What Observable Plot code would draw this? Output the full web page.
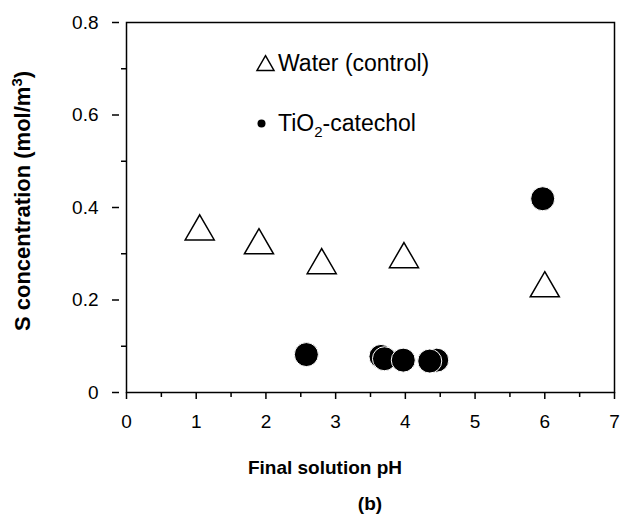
<!DOCTYPE html>
<html><head><meta charset="utf-8">
<script src="https://cdn.jsdelivr.net/npm/d3@7"></script>
<script src="https://cdn.jsdelivr.net/npm/@observablehq/plot@0.6"></script>
<style>
body{margin:0;background:#fff;}
svg{font-family:"Liberation Sans",Arial,sans-serif;}
</style>
</head><body><div id="chart"></div>
<script>
// Water (control) series
const waterPH = [1.05, 1.9, 2.8, 3.98, 6.0];
const waterS  = [0.348, 0.318, 0.275, 0.288, 0.225];
// TiO2-catechol series (drawing order matters for overlaps)
const tioPH = [2.58, 3.65, 3.70, 3.97, 4.45, 4.35, 5.97];
const tioS  = [0.082, 0.078, 0.073, 0.070, 0.070, 0.068, 0.419];
// ticks
const xTicks = [0, 1, 2, 3, 4, 5, 6, 7];
const xMinor = [0.5, 1.5, 2.5, 3.5, 4.5, 5.5, 6.5];
const yTicks = [0, 0.2, 0.4, 0.6, 0.8];
const yMinor = [0.1, 0.3, 0.5, 0.7];
// labels
const xLabel = "Final solution pH";
const panelLabel = "(b)";
const legendLabels = ["Water (control)", "TiO2-catechol"];

const water = waterPH.map((x, i) => ({x, y: waterS[i]}));
const tio = tioPH.map((x, i) => ({x, y: tioS[i]}));

const plot = Plot.plot({
  width: 639, height: 522,
  marginLeft: 126, marginRight: 25, marginTop: 22, marginBottom: 130,
  x: {domain: [0, 7]},
  y: {domain: [0, 0.8]},
  style: {fontFamily: "'Liberation Sans', Arial, sans-serif", fontSize: "19px", color: "black", background: "white"},
  marks: [
    Plot.axisX({ticks: xMinor, tickSize: 5, tickFormat: () => "", strokeWidth: 1.5, label: null}),
    Plot.axisX({ticks: xTicks, tickSize: 7, tickPadding: 15, strokeWidth: 1.5, label: null, fontSize: 19, tickFormat: d3.format("d")}),
    Plot.axisY({ticks: yMinor, tickSize: 5, tickFormat: () => "", strokeWidth: 1.5, label: null}),
    Plot.axisY({ticks: yTicks, tickSize: 7, tickPadding: 14, dx: -7, strokeWidth: 1.5, label: null, fontSize: 19, tickFormat: d => d === 0 ? "0" : d3.format(".1f")(d)}),
    Plot.frame({stroke: "black", strokeWidth: 1.5}),
    Plot.dot(water, {x: "x", y: "y", symbol: "triangle", r: 10.8, fill: "white", stroke: "black", strokeWidth: 1.5}),
    Plot.dot(tio, {x: "x", y: "y", r: 12, fill: "black", stroke: "white", strokeWidth: 1}),
    // legend symbols
    Plot.dot([legendLabels[0]], {frameAnchor: "top-left", dx: 139, dy: 43, symbol: "triangle", r: 6.3, fill: "white", stroke: "black", strokeWidth: 1.5}),
    Plot.dot([legendLabels[1]], {frameAnchor: "top-left", dx: 135, dy: 101, r: 4, fill: "black"})
  ]
});

const svg = d3.select(plot);
// legend text
const lg = svg.append("g").attr("font-size", 23).attr("fill", "black").attr("text-anchor", "start");
lg.append("text").attr("x", 278).attr("y", 71).text(legendLabels[0]);
const t2 = lg.append("text").attr("x", 278).attr("y", 131);
t2.append("tspan").text("TiO");
t2.append("tspan").attr("font-size", 15).attr("dy", 6).text("2");
t2.append("tspan").attr("dy", -6).text("-catechol");

// axis labels
svg.append("text").attr("x", 325).attr("y", 474).attr("text-anchor", "middle")
  .attr("font-size", 19).attr("font-weight", "bold").text(xLabel);
svg.append("text").attr("x", 370).attr("y", 510).attr("text-anchor", "middle")
  .attr("font-size", 19).attr("font-weight", "bold").text(panelLabel);
const yl = svg.append("text").attr("transform", "translate(30,201) rotate(-90)")
  .attr("text-anchor", "middle").attr("font-size", 22).attr("font-weight", "bold");
yl.append("tspan").text("S concentration (mol/m");
yl.append("tspan").attr("font-size", 15).attr("dy", -8).text("3");
yl.append("tspan").attr("dy", 8).text(")");

document.getElementById("chart").appendChild(plot);
</script>
</body></html>
